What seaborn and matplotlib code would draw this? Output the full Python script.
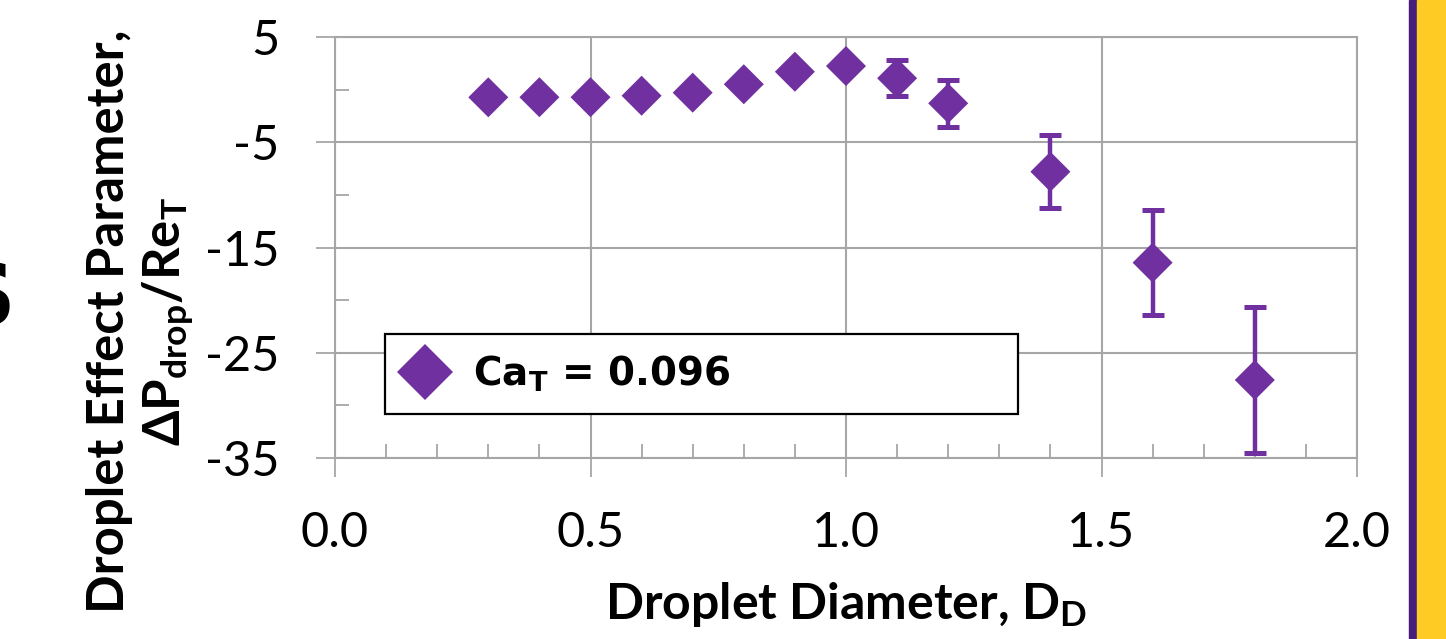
import numpy as np
import pandas as pd
import matplotlib
matplotlib.use("Agg")
import matplotlib.pyplot as plt
import seaborn as sns
from matplotlib.ticker import MultipleLocator, FixedLocator
from matplotlib.patches import Rectangle

# ---- data ----
diameter = [0.3, 0.4, 0.5, 0.6, 0.7, 0.8, 0.9, 1.0, 1.1, 1.2, 1.4, 1.6, 1.8]
effect = [-0.73, -0.72, -0.72, -0.58, -0.29, 0.51, 1.70, 2.24, 1.08, -1.30, -7.80, -16.44, -27.59]
error = [0.0, 0.0, 0.0, 0.0, 0.0, 0.0, 0.0, 0.0, 1.70, 2.26, 3.49, 5.02, 6.92]
series_label = r"Ca$_\mathbf{T}$ = 0.096"
x_ticks = [0.0, 0.5, 1.0, 1.5, 2.0]
y_ticks = [5, -5, -15, -25, -35]

df = pd.DataFrame({"D": diameter, "P": effect, "err": error, "series": series_label})

sns.set_theme(style="white")
plt.rcParams["font.family"] = ["Lato", "DejaVu Sans"]
plt.rcParams["mathtext.fontset"] = "custom"
plt.rcParams["mathtext.rm"] = "Lato"
plt.rcParams["mathtext.bf"] = "Lato:bold"
plt.rcParams["mathtext.it"] = "Lato:italic"

PURPLE = "#7030A0"
GRID = "#A6A6A6"

fig = plt.figure(figsize=(14.46, 6.39), dpi=100)
ax = fig.add_axes([335 / 1446, 1 - 458 / 639, 1022 / 1446, 421 / 639])

ax.errorbar(df["D"], df["P"], yerr=df["err"], fmt="none", ecolor=PURPLE,
            elinewidth=3.2, capsize=7.7, capthick=3.6, zorder=3)
sns.scatterplot(data=df, x="D", y="P", hue="series", palette=[PURPLE],
                marker="D", s=415, linewidth=0, ax=ax, zorder=4)

ax.set_xlim(0, 2)
ax.set_ylim(-35, 5)
ax.set_xticks(x_ticks)
ax.set_xticklabels([f"{t:.1f}" for t in x_ticks])
ax.set_yticks(y_ticks)
ax.set_yticklabels([str(t) for t in y_ticks])
ax.xaxis.set_minor_locator(MultipleLocator(0.1))
ax.yaxis.set_minor_locator(FixedLocator([0, -10, -20, -30]))

ax.grid(True, which="major", color=GRID, linewidth=1.5)
ax.set_axisbelow(True)
for side in ["left", "bottom", "top", "right"]:
    ax.spines[side].set_color(GRID)
    ax.spines[side].set_linewidth(1.5)

ax.tick_params(axis="both", which="major", direction="out", length=14, width=1.3,
               color=GRID, labelsize=35, labelcolor="black")
ax.tick_params(axis="y", which="major", pad=26)
ax.tick_params(axis="x", which="major", pad=24)
ax.tick_params(axis="both", which="minor", direction="in", length=10, width=1.3,
               color=GRID)
ax.tick_params(bottom=True, left=True, which="both")

ax.set_xlabel(r"Droplet Diameter, D$_\mathbf{D}$", fontsize=36, fontweight="bold",
              color="black", labelpad=18)
ax.set_ylabel("Droplet Effect Parameter,\n" + r"ΔP$_\mathbf{drop}$/Re$_\mathbf{T}$",
              fontsize=36.5, fontweight="bold", color="black", linespacing=1.2)
ax.yaxis.set_label_coords(-0.136, 0.325)

handles, labels = ax.get_legend_handles_labels()
leg = ax.legend(handles, labels, loc="center", mode="expand",
                bbox_to_anchor=(50 / 1022, 43 / 421, 633 / 1022, 82 / 421),
                borderaxespad=0, frameon=True, fancybox=False, markerscale=1.42,
                handlelength=1.0, handletextpad=0.75, borderpad=0.52,
                labelcolor="black",
                prop={"family": "DejaVu Sans", "weight": "bold", "size": 28,
                      "math_fontfamily": "dejavusans"})
leg.get_frame().set_edgecolor("black")
leg.get_frame().set_linewidth(1.6)
leg.get_frame().set_alpha(None)
leg.get_frame().set_facecolor("white")

# slide decoration: cropped title letter and side bars
fig.text(16 / 1446, 1 - 325 / 639, "S", fontsize=62, fontweight="bold",
         ha="right", va="baseline", family="DejaVu Sans", color="black")
fig.patches.append(Rectangle((1409 / 1446, 0), 8 / 1446, 1, transform=fig.transFigure,
                             color="#461D7C", zorder=0))
fig.patches.append(Rectangle((1417 / 1446, 0), 29 / 1446, 1, transform=fig.transFigure,
                             color="#FDCB24", zorder=0))

fig.savefig("out.png", dpi=100)
